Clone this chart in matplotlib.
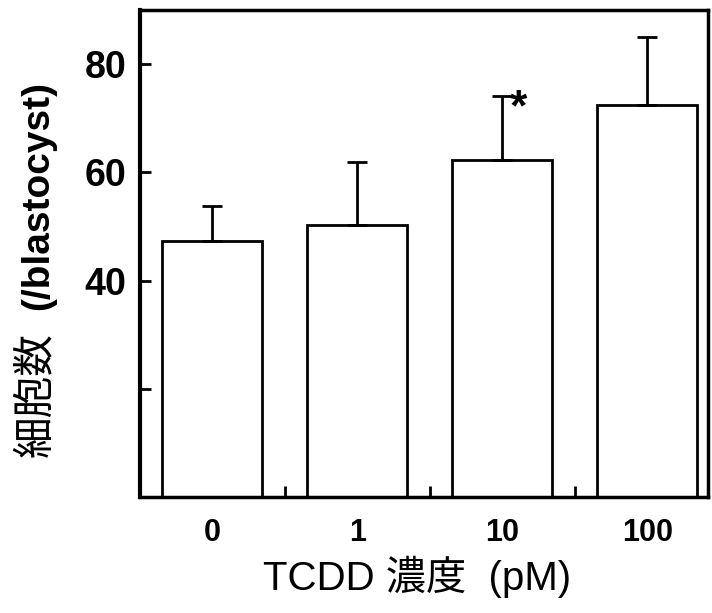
import matplotlib
matplotlib.use("Agg")
import matplotlib.pyplot as plt
from matplotlib.ticker import FixedLocator

categories = ["0", "1", "10", "100"]
means = [47.3, 50.2, 62.3, 72.5]
errors = [6.5, 11.7, 11.8, 12.5]
yticks = [20, 40, 60, 80]
yticklabels = ["", "40", "60", "80"]
signif = ["", "", "*", ""]

fig = plt.figure(figsize=(7.12, 6.13), dpi=100)
ax = fig.add_axes([140/712, 1-497/613, (708-140)/712, (497-10)/613])

x = list(range(len(categories)))
ax.bar(x, means, width=0.69, color="white", edgecolor="black", linewidth=2.0, zorder=2)
ax.errorbar(x, means, yerr=[[0]*len(means), errors], fmt="none", ecolor="black",
            elinewidth=2.0, capsize=7, capthick=2.0, zorder=3)
for xi, m, e, s in zip(x, means, errors, signif):
    if s:
        ax.text(xi + 0.05, m + e + 1.5, s, ha="left", va="top", fontsize=32,
                fontweight="bold", family="Liberation Sans")

ax.set_xlim(-0.5, 3.42)
ax.set_ylim(0, 90)
ax.set_yticks(yticks)
ax.set_yticklabels(yticklabels, fontsize=27, fontweight="bold", family="Liberation Sans")
ax.set_xticks(x)
ax.set_xticklabels(categories, fontsize=22, fontweight="bold", family="Liberation Sans")
for lbl in ax.get_xticklabels():
    lbl.set_x(lbl.get_position()[0])
ax.tick_params(axis="x", which="major", length=0, pad=15)
ax.xaxis.set_minor_locator(FixedLocator([0.5, 1.5, 2.5]))
ax.tick_params(axis="x", which="minor", direction="in", length=8, width=2)
ax.tick_params(axis="y", direction="in", length=8, width=2, pad=10)
for sp in ax.spines.values():
    sp.set_linewidth(2.5)
ax.spines["left"].set_linewidth(3.0)

fig.text(417/712, 1-577/613, "TCDD 濃度  (pM)", ha="center", va="center", fontsize=29,
         family=["Liberation Sans", "Noto Sans CJK JP"])
fig.text(36/712, 1-395/613, "細胞数", ha="center", va="center", rotation=90, fontsize=30,
         family=["Noto Sans CJK JP"])
fig.text(38/712, 1-195/613, "(/blastocyst)", ha="center", va="center", rotation=90, fontsize=28,
         fontweight="bold", family="Liberation Sans")

fig.savefig("out.png", dpi=100)
